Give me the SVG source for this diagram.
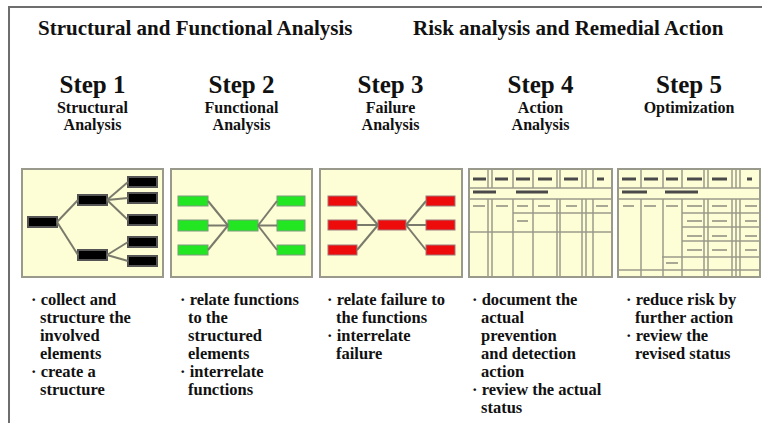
<svg xmlns="http://www.w3.org/2000/svg" width="762" height="423" viewBox="0 0 762 423">
<style>
.h1{font-size:21px}
.st{font-size:25px;text-anchor:middle}
.sub{font-size:16px;text-anchor:middle}
.b{font-size:16.5px}
.panel{fill:#fdfdd6;stroke:#9a9a8c;stroke-width:2}
.blk{fill:#000;stroke:#555;stroke-width:2}
.grn{fill:#22e622;stroke:#7f9a7f;stroke-width:1}
.red{fill:#ee0b0b;stroke:#9a7a7a;stroke-width:1}
.conn line{stroke:#7a7a6c;stroke-width:2}
.tl{stroke:#9a9a8c;stroke-width:1.5;fill:none}
.dk{stroke:#4a4a4a;stroke-width:3}
.lt{stroke:#a8a894;stroke-width:2}
</style>
<rect width="762" height="423" fill="#fff"/>
<g id="frame" stroke="#6e6e6e" stroke-width="2" fill="none">
<line x1="8" y1="7" x2="762" y2="7"/>
<line x1="9" y1="6" x2="9" y2="423"/>
</g>
<g font-family="'Liberation Serif', 'DejaVu Serif', serif" font-weight="bold" fill="#111">
<g id="titles">
<text class="h1" x="38" y="35">Structural and Functional Analysis</text>
<text class="h1" x="413" y="35">Risk analysis and Remedial Action</text>
</g>
<g id="step1-head"><text class="st" x="92.5" y="93">Step 1</text><text class="sub" x="92.5" y="113">Structural</text><text class="sub" x="92.5" y="130">Analysis</text></g>
<g id="step2-head"><text class="st" x="241.5" y="93">Step 2</text><text class="sub" x="241.5" y="113">Functional</text><text class="sub" x="241.5" y="130">Analysis</text></g>
<g id="step3-head"><text class="st" x="390.5" y="93">Step 3</text><text class="sub" x="390.5" y="113">Failure</text><text class="sub" x="390.5" y="130">Analysis</text></g>
<g id="step4-head"><text class="st" x="540.5" y="93">Step 4</text><text class="sub" x="540.5" y="113">Action</text><text class="sub" x="540.5" y="130">Analysis</text></g>
<g id="step5-head"><text class="st" x="689" y="93">Step 5</text><text class="sub" x="689" y="113">Optimization</text></g>
</g>

<g id="panel1">
<rect class="panel" x="22" y="169" width="141" height="108"/>
<rect class="blk" x="28" y="217" width="29" height="10"/>
<rect class="blk" x="78" y="195" width="29" height="10"/>
<rect class="blk" x="78" y="250" width="29" height="10"/>
<rect class="blk" x="128" y="177" width="29" height="10"/>
<rect class="blk" x="128" y="193" width="29" height="10"/>
<rect class="blk" x="128" y="215" width="29" height="10"/>
<rect class="blk" x="128" y="237" width="29" height="10"/>
<rect class="blk" x="128" y="256" width="29" height="10"/>
</g>
<g id="panel2">
<rect class="panel" x="171" y="169" width="141" height="108"/>
<rect class="grn" x="178" y="196" width="30" height="10"/>
<rect class="grn" x="178" y="220" width="30" height="11"/>
<rect class="grn" x="178" y="245" width="30" height="10"/>
<rect class="grn" x="228" y="220" width="30" height="11"/>
<rect class="grn" x="277" y="196" width="28" height="10"/>
<rect class="grn" x="277" y="220" width="28" height="11"/>
<rect class="grn" x="277" y="245" width="28" height="10"/>
</g>
<g id="panel3">
<rect class="panel" x="320" y="169" width="142" height="108"/>
<rect class="red" x="328" y="196" width="29" height="10"/>
<rect class="red" x="328" y="220" width="29" height="10"/>
<rect class="red" x="328" y="245" width="29" height="10"/>
<rect class="red" x="378" y="220" width="28" height="10"/>
<rect class="red" x="426" y="196" width="29" height="10"/>
<rect class="red" x="426" y="220" width="29" height="10"/>
<rect class="red" x="426" y="245" width="29" height="10"/>
</g>
<g id="connectors" class="conn">
<line x1="57" y1="222" x2="78" y2="200"/>
<line x1="57" y1="222" x2="78" y2="255"/>
<line x1="107" y1="200" x2="128" y2="182"/>
<line x1="107" y1="200" x2="128" y2="198"/>
<line x1="107" y1="200" x2="128" y2="220"/>
<line x1="107" y1="255" x2="128" y2="242"/>
<line x1="107" y1="255" x2="128" y2="261"/>
<line x1="208" y1="201" x2="228" y2="225.5"/>
<line x1="208" y1="225.5" x2="228" y2="225.5"/>
<line x1="208" y1="250" x2="228" y2="225.5"/>
<line x1="258" y1="225.5" x2="277" y2="201"/>
<line x1="258" y1="225.5" x2="277" y2="225.5"/>
<line x1="258" y1="225.5" x2="277" y2="250"/>
<line x1="357" y1="201" x2="378" y2="225"/>
<line x1="357" y1="225" x2="378" y2="225"/>
<line x1="357" y1="250" x2="378" y2="225"/>
<line x1="406" y1="225" x2="426" y2="201"/>
<line x1="406" y1="225" x2="426" y2="225"/>
<line x1="406" y1="225" x2="426" y2="250"/>
</g>
<g id="panel4">
<rect class="panel" x="469" y="169" width="143" height="108"/>
<path class="tl" d="M469 188H612M469 199H612M513 213H612M469 232H612
M488 169V188M492 169V188M513 169V188M533 169V188M557 169V188M560 169V188M582 169V188M586 169V188M593 169V188
M488 199V277M492 199V277M513 199V277M533 199V277M557 199V277M560 199V277M582 199V277M586 199V277M593 199V277"/>
<path class="dk" d="M473 179H486M495 179H508M516 179H530M538 179H552M564 179H578M597 179H604M473 192H496M516 192H548"/>
<path class="lt" d="M473 206H485M496 206H508M517 206H528M538 206H550M566 206H577M596 206H608M517 221H528"/>
</g>
<g id="panel5">
<rect class="panel" x="618" y="169" width="142" height="108"/>
<path class="tl" d="M618 188H760M618 199H760M682 213H760M682 227H760M682 241H760M662 257H760M618 270H760
M641 169V188M663 169V188M682 169V188M704 169V188M708 169V188M732 169V188M736 169V188M740 169V188
M641 199V277M663 199V277M682 199V277M704 199V277M708 199V277M732 199V277M736 199V277M740 199V277"/>
<path class="dk" d="M622 179H636M644 179H658M666 179H678M687 179H702M712 179H727M747 179H752M622 192H647M665 192H698"/>
<path class="lt" d="M623 206H634M644 206H656M666 206H678M687 206H702M712 206H727M745 206H757
M687 221H702M712 221H727M745 221H757M687 236H702M712 236H727M745 236H757M687 250H702M712 250H727M745 250H757M666 263H678"/>
</g>

<g font-family="'Liberation Serif', 'DejaVu Serif', serif" font-weight="bold" fill="#111">
<g id="text1">
<text class="b" x="31" y="305">· collect and</text>
<text class="b" x="40" y="323">structure the</text>
<text class="b" x="40" y="341">involved</text>
<text class="b" x="40" y="359">elements</text>
<text class="b" x="31" y="377">· create a</text>
<text class="b" x="40" y="395">structure</text>
</g>
<g id="text2">
<text class="b" x="180" y="305">· relate functions</text>
<text class="b" x="188" y="323">to the</text>
<text class="b" x="188" y="341">structured</text>
<text class="b" x="188" y="359">elements</text>
<text class="b" x="180" y="377">· interrelate</text>
<text class="b" x="188" y="395">functions</text>
</g>
<g id="text3">
<text class="b" x="327" y="305">· relate failure to</text>
<text class="b" x="336" y="323">the functions</text>
<text class="b" x="327" y="341">· interrelate</text>
<text class="b" x="336" y="359">failure</text>
</g>
<g id="text4">
<text class="b" x="472" y="305">· document the</text>
<text class="b" x="481" y="323">actual</text>
<text class="b" x="481" y="341">prevention</text>
<text class="b" x="481" y="359">and detection</text>
<text class="b" x="481" y="377">action</text>
<text class="b" x="472" y="395">· review the actual</text>
<text class="b" x="481" y="413">status</text>
</g>
<g id="text5">
<text class="b" x="626" y="305">· reduce risk by</text>
<text class="b" x="635" y="323">further action</text>
<text class="b" x="626" y="341">· review the</text>
<text class="b" x="635" y="359">revised status</text>
</g>
</g>
</svg>
